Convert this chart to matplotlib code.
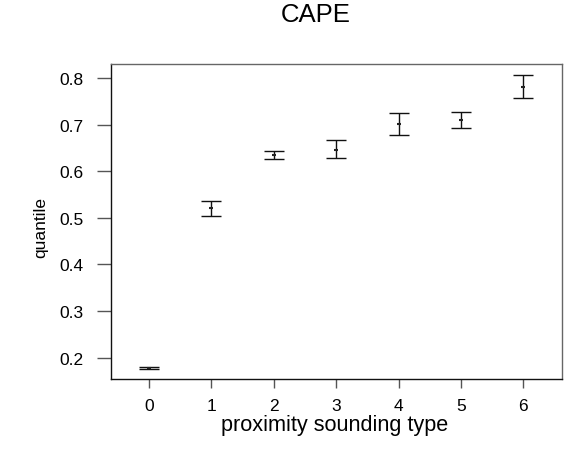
import matplotlib
matplotlib.use("Agg")
import matplotlib.pyplot as plt
import numpy as np

plt.rcParams['font.family'] = ['Liberation Sans', 'DejaVu Sans']

types = [0, 1, 2, 3, 4, 5, 6]
median = [0.178, 0.520, 0.635, 0.646, 0.701, 0.709, 0.781]
lower = [0.176, 0.503, 0.627, 0.628, 0.678, 0.692, 0.756]
upper = [0.180, 0.535, 0.644, 0.666, 0.724, 0.726, 0.806]
yticks = [0.2, 0.3, 0.4, 0.5, 0.6, 0.7, 0.8]

W, H = 571, 456
fig = plt.figure(figsize=(W/100, H/100), dpi=100)
ax = fig.add_axes([111/W, 1-380/H, (562-111)/W, (380-65)/H])

med = np.array(median)
yerr = np.vstack([med - np.array(lower), np.array(upper) - med])
ax.errorbar(types, median, yerr=yerr, fmt='none', ecolor='#111111',
            elinewidth=1.0, capsize=7.0, capthick=1.0)
ax.plot(types, median, linestyle='none', marker='_', markersize=3,
        markeredgewidth=1.5, color='#222222')

ax.set_xlim(-0.61, 6.62)
ax.set_ylim(0.154, 0.830)
ax.set_xticks(types)
ax.set_xticklabels([str(t) for t in types])
ax.set_yticks(yticks)
ax.set_yticklabels([f"{v:.1f}" for v in yticks])

ax.tick_params(axis='y', direction='out', length=10, width=1, color='#555555',
               pad=10, labelsize=12.5)
ax.tick_params(axis='x', direction='out', length=6.5, width=1, color='#555555',
               pad=7, labelsize=12.5)
for s in ['left', 'bottom']:
    ax.spines[s].set_color('#111111')
    ax.spines[s].set_linewidth(1.0)
for s in ['top', 'right']:
    ax.spines[s].set_color('#666666')
    ax.spines[s].set_linewidth(1.0)

fig.text(334.5/W, 1-426/H, 'proximity sounding type', ha='center', va='center',
         fontsize=15.6)
fig.text(41/W, 1-228/H, 'quantile', ha='center', va='center', rotation=90,
         fontsize=12.5)
fig.text(316/W, 1-14.5/H, 'CAPE', ha='center', va='center', fontsize=18.5)

fig.savefig('out.png', dpi=100)
